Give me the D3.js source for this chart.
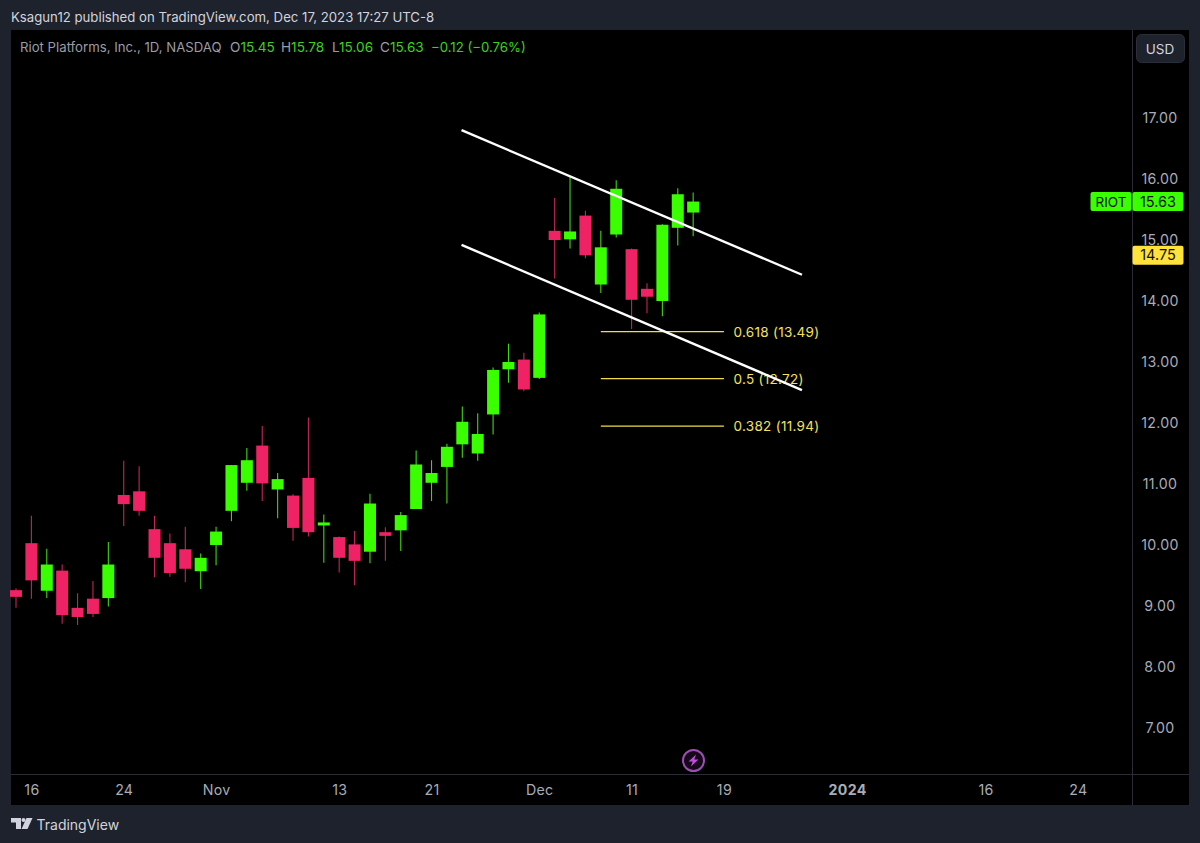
<!DOCTYPE html>
<html><head><meta charset="utf-8">
<script src="https://cdn.jsdelivr.net/npm/d3@7/dist/d3.min.js"></script>
<style>html,body{margin:0;padding:0;background:#1e222d;overflow:hidden}svg{display:block}text{font-family:Inter,"Open Sans",sans-serif}</style>
</head><body><svg id="c" width="1200" height="843"></svg>
<script>
// O,H,L,C per session
const opens =[9.26,10.03,9.25,9.58,8.97,9.12,9.13,10.82,10.88,10.26,10.03,9.93,9.57,10.00,10.56,11.02,11.63,10.91,10.81,11.10,10.32,10.13,10.01,9.89,10.21,10.24,10.59,11.02,11.28,11.65,11.50,12.14,12.88,13.04,12.74,15.15,15.01,15.40,14.27,15.09,14.85,14.20,14.00,15.20,15.45];
const highs =[9.29,10.48,9.94,9.68,9.21,9.41,10.05,11.38,11.29,10.48,10.19,10.30,9.86,10.30,11.31,11.59,11.95,11.18,10.83,12.09,10.50,10.14,10.23,10.84,10.29,10.54,11.55,11.39,11.66,12.27,12.16,12.91,13.30,13.15,13.81,15.69,16.04,15.48,15.15,15.98,14.86,14.29,15.26,15.85,15.78];
const lows  =[8.97,9.12,9.13,8.71,8.69,8.82,8.99,10.31,10.48,9.47,9.48,9.39,9.28,9.67,10.39,10.89,10.72,10.44,10.07,10.14,9.71,9.55,9.34,9.70,9.74,9.90,10.59,10.72,10.68,11.43,11.38,11.81,12.66,12.52,12.72,14.37,14.86,14.70,14.13,15.04,13.54,13.80,13.75,14.91,15.06];
const closes=[9.15,9.42,9.68,8.85,8.82,8.87,9.68,10.67,10.56,9.79,9.54,9.61,9.79,10.22,11.31,11.39,11.01,11.08,10.28,10.21,10.37,9.79,9.74,10.68,10.15,10.49,11.32,11.18,11.61,12.02,11.82,12.87,13.00,12.55,13.78,15.00,15.14,14.75,14.88,15.84,14.02,14.07,15.25,15.75,15.63];
const priceTicks=[7,8,9,10,11,12,13,14,15,16,17];
const dateTickIdx=[1,7,13,21,27,34,40,46,54,63,69];
const dateTickLabels=["16","24","Nov","13","21","Dec","11","19","2024","16","24"];
const channelTop=[[28.95,16.80],[51.07,14.43]];
const channelBottom=[[28.95,14.92],[51.07,12.54]];
const fibLevels=[[0.618,13.49],[0.5,12.72],[0.382,11.94]];
const fibSpan=[38,46];

const UP="#39ff00",DOWN="#ee2264",YEL="#ffe23b",TXT="#a9acb5",BG="#1e222d";
const svg=d3.select("#c");
const L=11,T=30,R=1189,B=805,AX=1132,AY=774;
const x=d3.scaleLinear().domain([0,69]).range([16,16+69*15.39]);
const y=d3.scaleLinear().domain([7,17]).range([728,118]);

svg.append("rect").attr("x",L).attr("y",T).attr("width",R-L).attr("height",B-T).attr("fill","#000");
svg.append("line").attr("x1",AX+.5).attr("x2",AX+.5).attr("y1",T).attr("y2",B).attr("stroke","#2a2d35");
svg.append("line").attr("x1",L).attr("x2",R).attr("y1",AY+.5).attr("y2",AY+.5).attr("stroke","#2a2d35");

// candles
const idx=d3.range(opens.length);
const g=svg.append("g");
const col=i=>closes[i]>=opens[i]?UP:DOWN;
g.selectAll(".w").data(idx).join("line").attr("x1",x).attr("x2",x)
 .attr("y1",i=>y(highs[i])).attr("y2",i=>y(lows[i]))
 .attr("stroke",i=>closes[i]>=opens[i]?"#3fd614":"#c4245a").attr("stroke-width",1.1);
g.selectAll(".b").data(idx).join("rect").attr("x",i=>x(i)-6).attr("width",12)
 .attr("y",i=>y(Math.max(opens[i],closes[i])))
 .attr("height",i=>Math.max(2,Math.abs(y(opens[i])-y(closes[i]))))
 .attr("fill",col);

// fib levels
const fg=svg.append("g");
fg.selectAll("line").data(fibLevels).join("line")
 .attr("x1",x(fibSpan[0])).attr("x2",x(fibSpan[1]))
 .attr("y1",d=>y(d[1])-.5).attr("y2",d=>y(d[1])-.5).attr("stroke","#f2dc4a").attr("stroke-width",1.2);
fg.selectAll("text").data(fibLevels).join("text")
 .attr("x",733.5).attr("y",d=>y(d[1])+4.5).attr("text-anchor","start")
 .attr("font-size",13.5).style("letter-spacing","0.3px").attr("fill","#f5e25a").text(d=>`${d[0]} (${d[1].toFixed(2)})`);

// channel
const ln=d3.line().x(d=>x(d[0])).y(d=>y(d[1]));
[channelTop,channelBottom].forEach(c=>svg.append("path").attr("d",ln(c)).attr("stroke","#fff").attr("stroke-width",2.4).attr("fill","none"));

// axes
const ya=d3.axisRight(y).tickValues(priceTicks).tickSize(0).tickFormat(d3.format(".2f"));
const yg=svg.append("g").attr("transform",`translate(${AX},0)`).call(ya);
yg.select(".domain").remove();
yg.selectAll("text").attr("x",28).attr("text-anchor","middle").attr("dx",0).attr("font-size",14.2).attr("fill",TXT).style("font-family","Inter,sans-serif").style("letter-spacing","0.3px");
const xa=d3.axisBottom(x).tickValues(dateTickIdx).tickSize(0).tickFormat((d,i)=>dateTickLabels[i]);
const xg=svg.append("g").attr("transform",`translate(0,${AY})`).call(xa);
xg.select(".domain").remove();
xg.selectAll("text").attr("y",20.5).attr("dy",0).attr("font-size",14.2).attr("fill",TXT).style("font-family","Inter,sans-serif")
 .attr("font-weight",d=>d===54?700:400).style("letter-spacing","0.3px");

// price labels
function tag(xx,w,yc,fill,t,size){
 svg.append("rect").attr("x",xx).attr("y",yc-9.5).attr("width",w).attr("height",19).attr("rx",2).attr("fill",fill);
 svg.append("text").attr("x",xx+w/2).attr("y",yc+5.2).attr("text-anchor","middle").attr("font-size",size).attr("fill","#111").text(t);
}
tag(1090.5,41,y(closes[44]),UP,"RIOT",13.5);
tag(1132.5,51,y(closes[44]),UP,closes[44].toFixed(2),14.5);
tag(1132.5,51,y(closes[37]),YEL,closes[37].toFixed(2),14.5);

// USD button
svg.append("rect").attr("x",1136.5).attr("y",34.5).attr("width",48).attr("height",28).attr("rx",5).attr("fill","#1e222d").attr("stroke","#2a2e39");
svg.append("text").attr("x",1160).attr("y",53.5).attr("text-anchor","middle").attr("font-size",13.5).attr("fill","#d1d4dc").text("USD");

// header
svg.append("text").attr("x",11).attr("y",22).attr("font-size",13.2).attr("fill","#d1d4dc").text("Ksagun12 published on TradingView.com, Dec 17, 2023 17:27 UTC-8");
const last=opens.length-1;
const hdr=svg.append("g").attr("font-size",13.6);
hdr.append("text").attr("x",20).attr("y",52).attr("font-size",13.2).attr("fill","#9a9da6").text("Riot Platforms, Inc., 1D, NASDAQ");
[["O",opens[last],230],["H",highs[last],281],["L",lows[last],332],["C",closes[last],380]].forEach(p=>{
 const t=hdr.append("text").attr("x",p[2]).attr("y",52).attr("fill","#9a9da6");
 t.append("tspan").text(p[0]);
 t.append("tspan").attr("fill","#3bd41a").text(p[1].toFixed(2));
});
hdr.append("text").attr("x",431).attr("y",52).attr("font-size",13.2).attr("fill","#3bd41a").text("−0.12 (−0.76%)");

// lightning marker
const lg=svg.append("g").attr("transform",`translate(693.5,760.5)`);
lg.append("circle").attr("r",10.5).attr("fill","#16081a").attr("stroke","#9b4fb0").attr("stroke-width",2);
lg.append("path").attr("d","M2.5,-6 L-5,1 L-0.8,1 L-2.5,6 L5,-1 L0.8,-1 Z").attr("fill","#c04fd8");

// footer logo
svg.append("path").attr("fill","#d1d4dc").attr("d","M11,818 H21 V829 H16 V822.5 H11 Z");
svg.append("circle").attr("cx",23.5).attr("cy",820).attr("r",2).attr("fill","#d1d4dc");
svg.append("path").attr("fill","#d1d4dc").attr("d","M26.5,818 H32.5 L27.5,829 H21.5 Z");
svg.append("text").attr("x",36.5).attr("y",829.5).attr("font-size",14).attr("fill","#d1d4dc").text("TradingView");
</script></body></html>
